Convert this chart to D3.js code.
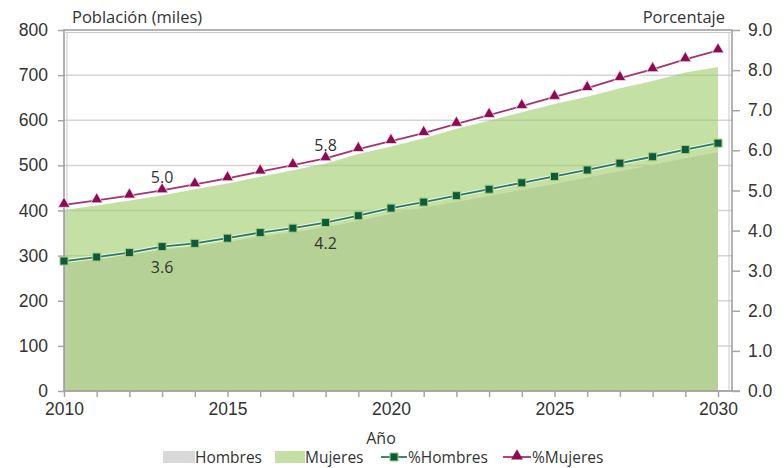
<!DOCTYPE html>
<html>
<head>
<meta charset="utf-8">
<script src="https://cdn.jsdelivr.net/npm/d3@7/dist/d3.min.js"></script>
<style>
  html, body { margin: 0; padding: 0; background: #fff; }
  svg { display: block; font-family: "Open Sans", "Noto Sans", sans-serif; }
  .axis text { fill: #333; font-size: 17.5px; }
</style>
</head>
<body>
<svg id="chart" width="784" height="468"></svg>
<script>
// Years of the projection
const years = [2010, 2011, 2012, 2013, 2014, 2015, 2016, 2017, 2018, 2019, 2020,
               2021, 2022, 2023, 2024, 2025, 2026, 2027, 2028, 2029, 2030];

// Population in thousands
const hombres = [283, 292, 301, 313, 320, 330, 342, 351, 363, 377, 393,
                 406, 419, 432, 446, 459, 473, 487, 501, 516, 529];
const mujeres = [401, 411, 422, 433, 447, 460, 475, 489, 504, 525, 542,
                 560, 581, 599, 618, 636, 652, 671, 687, 706, 718];

// Share of total population (%)
const pctHombres = [3.24, 3.34, 3.45, 3.6, 3.68, 3.81, 3.95, 4.06, 4.2, 4.37, 4.56,
                    4.71, 4.87, 5.03, 5.19, 5.35, 5.51, 5.68, 5.84, 6.02, 6.18];
const pctMujeres = [4.64, 4.75, 4.87, 5.0, 5.15, 5.3, 5.47, 5.63, 5.8, 6.03, 6.23,
                    6.43, 6.66, 6.88, 7.1, 7.33, 7.55, 7.8, 8.02, 8.27, 8.49];

// Tick values
const popTicks = [0, 100, 200, 300, 400, 500, 600, 700, 800];
const pctTicks = [0, 1, 2, 3, 4, 5, 6, 7, 8, 9];

// Data labels shown on the lines: [year index, series]
const labeled = [
  { i: 3, series: "m" }, { i: 8, series: "m" },
  { i: 3, series: "h" }, { i: 8, series: "h" }
];

const svg = d3.select("#chart");
const plotL = 64, plotR = 732, plotT = 30, plotB = 391, xEnd = 718;

const x = d3.scaleLinear().domain([2010, 2030]).range([plotL, xEnd]);
const yPop = d3.scaleLinear().domain([0, 800]).range([plotB, plotT]);
const yPct = d3.scaleLinear().domain([0, 9]).range([plotB, plotT]);

// Gridlines
svg.append("g")
  .selectAll("line")
  .data(popTicks.filter(d => d > 0 && d < 800))
  .join("line")
  .attr("x1", plotL).attr("x2", plotR)
  .attr("y1", d => yPop(d)).attr("y2", d => yPop(d))
  .attr("stroke", "#d4d4d4").attr("stroke-width", 1.5);

// Areas: men (grey) underneath, women (translucent green) on top
const area = vals => d3.area()
  .x((d, i) => x(years[i]))
  .y0(yPop(0))
  .y1(d => yPop(d))(vals);

svg.append("path").attr("d", area(hombres)).attr("fill", "#d9d9d9");
svg.append("path").attr("d", area(mujeres)).attr("fill", "rgb(158,203,103)").attr("fill-opacity", 0.6);

// Plot frame
svg.append("rect")
  .attr("x", plotL).attr("y", plotT)
  .attr("width", plotR - plotL).attr("height", plotB - plotT)
  .attr("fill", "none").attr("stroke", "#9a9a9a").attr("stroke-width", 1.5);
svg.append("line").attr("x1", plotL + 3).attr("x2", plotL + 3).attr("y1", plotT + 2).attr("y2", plotB)
  .attr("stroke", "#c9c9c9").attr("stroke-width", 1);
svg.append("line").attr("x1", plotR - 3).attr("x2", plotR - 3).attr("y1", plotT + 2).attr("y2", plotB)
  .attr("stroke", "#c9c9c9").attr("stroke-width", 1);
svg.append("line").attr("x1", plotL).attr("x2", plotR).attr("y1", plotT + 2.5).attr("y2", plotT + 2.5)
  .attr("stroke", "#c9c9c9").attr("stroke-width", 1);

// Axes
const axL = svg.append("g").attr("class", "axis").attr("transform", `translate(${plotL},0)`)
  .call(d3.axisLeft(yPop).tickValues(popTicks).tickSize(6).tickPadding(10));
const axR = svg.append("g").attr("class", "axis").attr("transform", `translate(${plotR},0)`)
  .call(d3.axisRight(yPct).tickValues(pctTicks).tickSize(8).tickPadding(8).tickFormat(d3.format(".1f")));
const axB = svg.append("g").attr("class", "axis").attr("transform", `translate(0,${plotB})`)
  .call(d3.axisBottom(x).tickValues(years).tickSize(6).tickPadding(6)
    .tickFormat(d => d % 5 === 0 ? d : ""));
[axL, axR, axB].forEach(g => {
  g.select(".domain").attr("stroke", "#a6a6a6").attr("stroke-width", 1.5);
  g.selectAll(".tick line").attr("stroke", "#a6a6a6").attr("stroke-width", 1.5);
});
axL.select(".domain").remove();
axR.select(".domain").remove();
axB.select(".domain").attr("d", `M${plotL},0H${plotR + 8}`);

// Lines with a pale halo beneath
const line = vals => d3.line()
  .x((d, i) => x(years[i]))
  .y(d => yPct(d))(vals);

svg.append("path").attr("d", line(pctHombres)).attr("fill", "none")
  .attr("stroke", "#ffffff").attr("stroke-opacity", 0.6).attr("stroke-width", 4);
svg.append("path").attr("d", line(pctHombres)).attr("fill", "none")
  .attr("stroke", "#2b7a68").attr("stroke-width", 1.8);

svg.append("path").attr("d", line(pctMujeres)).attr("fill", "none")
  .attr("stroke", "#ffffff").attr("stroke-width", 5);
svg.append("path").attr("d", line(pctMujeres)).attr("fill", "none")
  .attr("stroke", "#a5336f").attr("stroke-width", 1.8);

// Markers
svg.append("g").selectAll("rect")
  .data(pctHombres)
  .join("rect")
  .attr("x", (d, i) => x(years[i]) - 4)
  .attr("y", d => yPct(d) - 4)
  .attr("width", 8).attr("height", 8)
  .attr("fill", "#0d5a3e").attr("stroke", "#a6c97a").attr("stroke-width", 1);

const tri = d3.symbol().type(d3.symbolTriangle).size(60);
svg.append("g").selectAll("path")
  .data(pctMujeres)
  .join("path")
  .attr("d", tri)
  .attr("transform", (d, i) => `translate(${x(years[i])},${yPct(d) - 1})`)
  .attr("fill", "#8a0c52").attr("stroke", "#f2dbe6").attr("stroke-width", 0.8);

// Value labels
svg.append("g").selectAll("text")
  .data(labeled)
  .join("text")
  .attr("x", d => x(years[d.i]))
  .attr("y", d => d.series === "m" ? yPct(pctMujeres[d.i]) - 7 : yPct(pctHombres[d.i]) + 26)
  .attr("text-anchor", "middle")
  .attr("font-size", 16)
  .attr("fill", "#333")
  .text(d => (d.series === "m" ? pctMujeres[d.i] : pctHombres[d.i]).toFixed(1));

// Axis titles
svg.append("text").attr("x", 72).attr("y", 23).attr("font-size", 16.5).attr("fill", "#333")
  .text("Población (miles)");
svg.append("text").attr("x", 725).attr("y", 23).attr("font-size", 16.5).attr("fill", "#333")
  .attr("text-anchor", "end").text("Porcentaje");
svg.append("text").attr("x", 381).attr("y", 444).attr("font-size", 16).attr("fill", "#333")
  .attr("text-anchor", "middle").text("Año");

// Legend
const lg = svg.append("g").attr("font-size", 15.5).attr("fill", "#333");
lg.append("rect").attr("x", 163).attr("y", 451).attr("width", 32).attr("height", 12).attr("fill", "#d9d9d9");
lg.append("text").attr("x", 195).attr("y", 463).text("Hombres");
lg.append("rect").attr("x", 275).attr("y", 451).attr("width", 30).attr("height", 12).attr("fill", "#c5e0a4");
lg.append("text").attr("x", 305).attr("y", 463).text("Mujeres");
lg.append("line").attr("x1", 381).attr("x2", 407).attr("y1", 457).attr("y2", 457)
  .attr("stroke", "#2b7a68").attr("stroke-width", 1.8);
lg.append("rect").attr("x", 390).attr("y", 453).attr("width", 8).attr("height", 8)
  .attr("fill", "#0d5a3e").attr("stroke", "#a6c97a");
lg.append("text").attr("x", 408).attr("y", 463).text("%Hombres");
lg.append("line").attr("x1", 503).attr("x2", 531).attr("y1", 457).attr("y2", 457)
  .attr("stroke", "#a5336f").attr("stroke-width", 1.8);
lg.append("path").attr("d", tri).attr("transform", "translate(517,456)")
  .attr("fill", "#8a0c52");
lg.append("text").attr("x", 532).attr("y", 463).text("%Mujeres");
</script>
</body>
</html>
